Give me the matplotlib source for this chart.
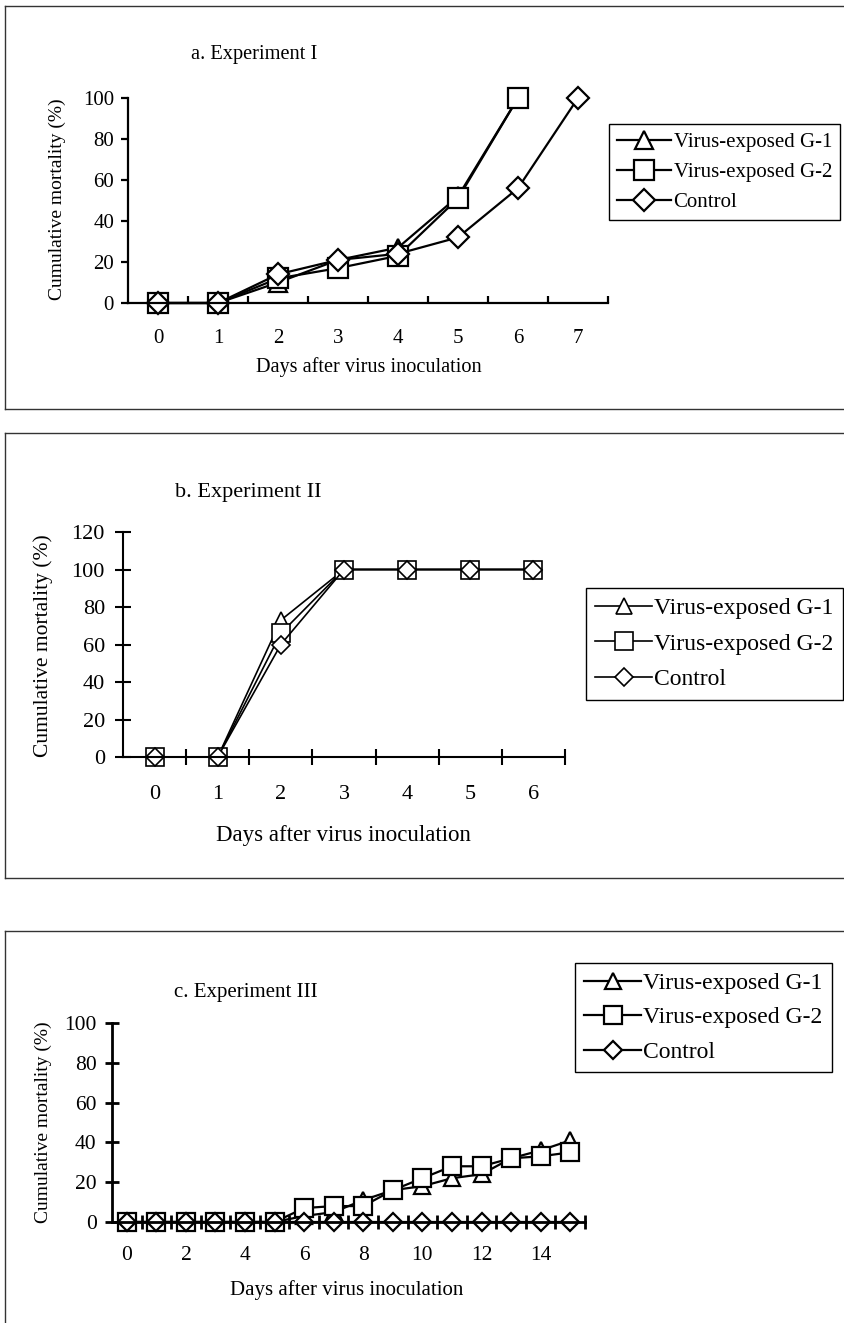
import matplotlib
matplotlib.use("Agg")
import matplotlib.pyplot as plt
from matplotlib.lines import Line2D
from matplotlib.ticker import FixedLocator

plt.rcParams['font.family'] = ['Liberation Serif', 'DejaVu Serif']

W, H = 845, 1323

# series labels / markers
labels = ['Virus-exposed G-1', 'Virus-exposed G-2', 'Control']
markers = ['^', 's', 'D']

# a. Experiment I
days_a = [0, 1, 2, 3, 4, 5, 6, 7]
a_g1 = [0, 0, 10, 21, 27, 52, 100]
a_g2 = [0, 0, 12, 17, 23, 51, 100]
a_ctrl = [0, 0, 14, 21, 24, 32, 56, 100]

# b. Experiment II
days_b = [0, 1, 2, 3, 4, 5, 6]
b_g1 = [0, 0, 73, 100, 100, 100, 100]
b_g2 = [0, 0, 66, 100, 100, 100, 100]
b_ctrl = [0, 0, 60, 100, 100, 100, 100]

# c. Experiment III
days_c = [0, 1, 2, 3, 4, 5, 6, 7, 8, 9, 10, 11, 12, 13, 14, 15]
c_g1 = [0, 0, 0, 0, 0, 0, 3, 5, 11, 16, 18, 22, 24, 32, 36, 41]
c_g2 = [0, 0, 0, 0, 0, 0, 7, 8, 8, 16, 22, 28, 28, 32, 33, 35]
c_ctrl = [0, 0, 0, 0, 0, 0, 0, 0, 0, 0, 0, 0, 0, 0, 0, 0]


def fx(px):
    return px / W


def fy(py):
    return 1 - py / H


def box(fig, x0, y0, x1, y1, sides):
    # panel frame drawn in pixel coords
    segs = {'top': ([x0, x1], [y0, y0]), 'bottom': ([x0, x1], [y1, y1]),
            'left': ([x0, x0], [y0, y1])}
    for s in sides:
        xs, ys = segs[s]
        fig.add_artist(Line2D([fx(v) for v in xs], [fy(v) for v in ys],
                              transform=fig.transFigure, color='#333333', lw=1.0))


def panel(fig, rect, days, series, xlim, ylim, yticks, xlabels_at, fs, lw, ms,
          xtick_dir, xtick_len, ytick_dir, ytick_len, xpad, ypad, spine_w):
    ax = fig.add_axes(rect)
    sizes = [ms * 1.0, ms * 1.05, ms * 0.8]
    for ys, m, lab, s in zip(series, markers, labels, sizes):
        ax.plot(days[:len(ys)], ys, color='black', lw=lw, marker=m, markersize=s,
                markerfacecolor='white', markeredgecolor='black', markeredgewidth=lw,
                clip_on=False, label=lab)
    ax.set_xlim(*xlim)
    ax.set_ylim(*ylim)
    for sp in ['top', 'right']:
        ax.spines[sp].set_visible(False)
    for sp in ['left', 'bottom']:
        ax.spines[sp].set_linewidth(spine_w)
    ax.xaxis.set_major_locator(FixedLocator(xlabels_at))
    ax.xaxis.set_minor_locator(FixedLocator([d + 0.5 for d in range(int(xlim[0] + 0.5), int(xlim[1] + 0.5))]))
    ax.tick_params(axis='x', which='major', length=0, pad=xpad, labelsize=fs)
    ax.tick_params(axis='x', which='minor', direction=xtick_dir, length=xtick_len, width=spine_w)
    ax.set_yticks(yticks)
    ax.tick_params(axis='y', which='major', direction=ytick_dir, length=ytick_len,
                   width=spine_w, pad=ypad, labelsize=fs)
    ax.patch.set_alpha(0)
    return ax


fig = plt.figure(figsize=(W / 100, H / 100), dpi=100)

# frames
box(fig, 5, 6, 845, 409, ['top', 'bottom', 'left'])
box(fig, 5, 433, 845, 878, ['top', 'bottom', 'left'])
box(fig, 5, 931, 845, 1323, ['top', 'left'])

ylab = 'Cumulative mortality (%)'
xlab = 'Days after virus inoculation'

# panel a
ax_a = panel(fig, [fx(128), fy(303), fx(480), 205 / H], days_a, [a_g1, a_g2, a_ctrl],
             (-0.5, 7.5), (0, 100), [0, 20, 40, 60, 80, 100], days_a, 15, 1.6, 13.5,
             'in', 5, 'out', 5, 19, 5, 1.6)
fig.text(fx(191), fy(55), 'a. Experiment I', fontsize=14.7, ha='left', va='center')
fig.text(fx(369), fy(367), xlab, fontsize=14.6, ha='center', va='center')
fig.text(fx(57), fy(199), ylab, fontsize=14, rotation=90, ha='center', va='center')
ax_a.legend(loc='upper left', bbox_to_anchor=(fx(609), fy(124)), bbox_transform=fig.transFigure,
            fontsize=15, frameon=True, fancybox=False, edgecolor='black', framealpha=1,
            handlelength=2.6, handletextpad=0.1, labelspacing=0.5, borderpad=0.4,
            borderaxespad=0).get_frame().set_linewidth(1.0)

# panel b
ax_b = panel(fig, [fx(123), fy(757), fx(442), 225 / H], days_b, [b_g1, b_g2, b_ctrl],
             (-0.5, 6.5), (0, 120), [0, 20, 40, 60, 80, 100, 120], days_b, 16, 1.2, 12,
             'inout', 12, 'inout', 12, 20, 7, 1.5)
fig.text(fx(175), fy(493), 'b. Experiment II', fontsize=16, ha='left', va='center')
fig.text(fx(343), fy(835), xlab, fontsize=16.5, ha='center', va='center')
fig.text(fx(43), fy(646), ylab, fontsize=15.5, rotation=90, ha='center', va='center')
ax_b.legend(loc='upper left', bbox_to_anchor=(fx(586), fy(588)), bbox_transform=fig.transFigure,
            fontsize=17, frameon=True, fancybox=False, edgecolor='black', framealpha=1,
            handlelength=2.4, handletextpad=0.1, labelspacing=0.6, borderpad=0.4,
            borderaxespad=0).get_frame().set_linewidth(1.0)

# panel c
ax_c = panel(fig, [fx(112), fy(1222), fx(473), 199 / H], days_c, [c_g1, c_g2, c_ctrl],
             (-0.5, 15.5), (0, 100), [0, 20, 40, 60, 80, 100], [0, 2, 4, 6, 8, 10, 12, 14], 15.5, 1.6, 12,
             'inout', 10, 'inout', 10, 17, 6, 2.0)
fig.text(fx(174), fy(993), 'c. Experiment III', fontsize=15, ha='left', va='center')
fig.text(fx(347), fy(1290), xlab, fontsize=15, ha='center', va='center')
fig.text(fx(43), fy(1122), ylab, fontsize=14, rotation=90, ha='center', va='center')
ax_c.legend(loc='upper left', bbox_to_anchor=(fx(575), fy(963)), bbox_transform=fig.transFigure,
            fontsize=17, frameon=True, fancybox=False, edgecolor='black', framealpha=1,
            handlelength=2.4, handletextpad=0.1, labelspacing=0.55, borderpad=0.4,
            borderaxespad=0).get_frame().set_linewidth(1.0)

fig.savefig('out.png', dpi=100)
